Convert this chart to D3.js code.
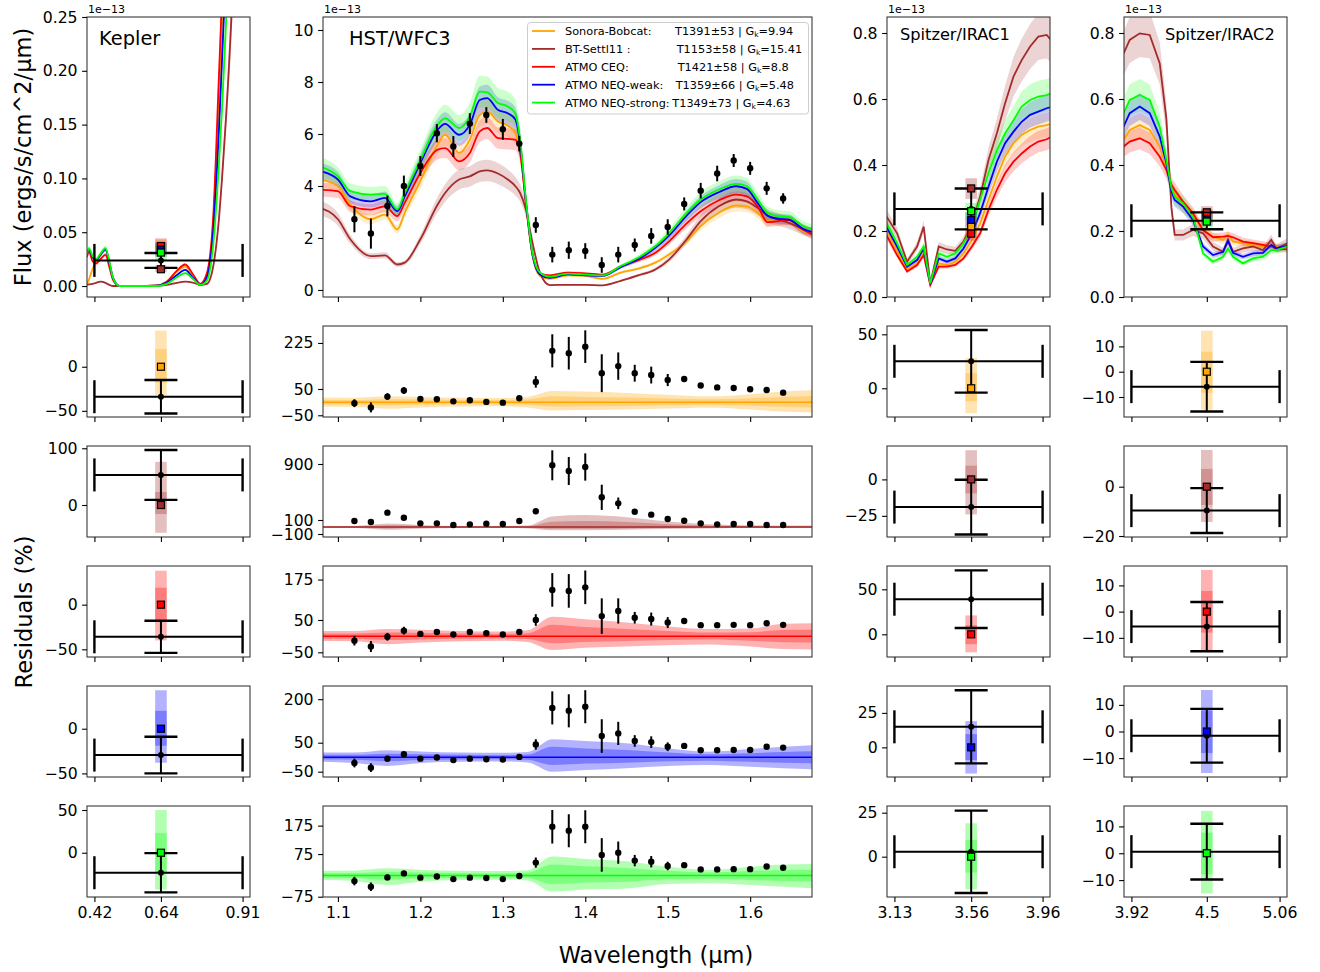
<!DOCTYPE html>
<html>
<head>
<meta charset="utf-8">
<script src="https://cdn.jsdelivr.net/npm/d3@7"></script>
<style>
  body { margin: 0; background: #fff; }
  svg text { font-family: "DejaVu Sans", sans-serif; fill: #000; }
</style>
</head>
<body>
<svg id="fig" width="1320" height="972"></svg>
<script>
// ---- models ----
var modelNames = ["Sonora-Bobcat:", "BT-Settl11 :", "ATMO CEQ:", "ATMO NEQ-weak:", "ATMO NEQ-strong:"];
var modelTemps = ["T1391±53", "T1153±58", "T1421±58", "T1359±66", "T1349±73"];
var modelGk = ["9.94", "15.41", "8.8", "5.48", "4.63"];
var modelColors = ["orange", "brown", "red", "blue", "lime"];
var bandFrac = [0.07, 0.09, 0.07, 0.07, 0.08];   // relative width of the shaded model spread

// ---- Kepler spectra (1e-13) ----
var keplerWave = [0.3955, 0.402, 0.414, 0.4256, 0.44, 0.4567, 0.47, 0.481, 0.503, 0.56, 0.6257, 0.659, 0.692, 0.72, 0.748, 0.77, 0.792, 0.814, 0.831, 0.842, 0.856, 0.873, 0.9345];
var keplerSonora = [0.002, 0.006, 0.016, 0.022, 0.029, 0.034, 0.021, 0.008, 0, 0, 0.0004, 0.004, 0.013, 0.018, 0.009, 0.001, 0.010, 0.062, 0.165, 0.240, 0.350, 0.550, 1.400];
var keplerSettl = [0.001, 0.0015, 0.002, 0.003, 0.004, 0.003, 0.001, 0, 0, 0, 0, 0.001, 0.003, 0.004, 0.003, 0.001, 0.002, 0.020, 0.060, 0.100, 0.160, 0.250, 0.900];
var keplerCeq = [0.027, 0.032, 0.023, 0.021, 0.025, 0.029, 0.017, 0.006, 0, 0, 0.0005, 0.004, 0.014, 0.020, 0.010, 0.002, 0.012, 0.070, 0.190, 0.270, 0.400, 0.600, 1.500];
var keplerWeak = [0.030, 0.034, 0.027, 0.024, 0.029, 0.034, 0.021, 0.008, 0, 0, 0.0003, 0.003, 0.010, 0.015, 0.007, 0.001, 0.008, 0.055, 0.140, 0.210, 0.310, 0.500, 1.300];
var keplerStrong = [0.030, 0.035, 0.028, 0.025, 0.030, 0.035, 0.022, 0.008, 0, 0, 0, 0.002, 0.008, 0.012, 0.006, 0.001, 0.005, 0.042, 0.110, 0.165, 0.250, 0.400, 1.200];

// ---- HST/WFC3 spectra ----
var hstWave = [1.078, 1.10, 1.115, 1.14, 1.157, 1.172, 1.181, 1.20, 1.221, 1.23, 1.247, 1.26, 1.272, 1.281, 1.294, 1.306, 1.315, 1.321, 1.328, 1.336, 1.345, 1.357, 1.379, 1.40, 1.421, 1.443, 1.464, 1.485, 1.502, 1.523, 1.54, 1.562, 1.583, 1.596, 1.609, 1.621, 1.634, 1.647, 1.664, 1.68];
var hstSonora = [4.25, 4.00, 3.29, 2.72, 2.90, 2.33, 2.97, 4.19, 5.60, 5.97, 5.27, 5.78, 6.74, 6.87, 6.48, 6.32, 6.04, 5.40, 3.29, 1.30, 0.54, 0.43, 0.56, 0.54, 0.43, 0.67, 0.82, 1.05, 1.37, 1.88, 2.46, 2.97, 3.25, 3.22, 2.97, 2.65, 2.71, 2.65, 2.26, 2.14];
var hstSettl = [3.16, 2.72, 1.95, 1.30, 1.33, 0.98, 1.05, 1.95, 3.29, 3.73, 4.25, 4.37, 4.56, 4.60, 4.48, 4.25, 4.00, 3.73, 3.09, 1.82, 0.67, 0.19, 0.20, 0.20, 0.18, 0.35, 0.56, 0.79, 1.18, 1.95, 2.65, 3.22, 3.48, 3.41, 3.16, 2.86, 2.71, 2.58, 2.33, 2.05];
var hstCeq = [3.86, 3.80, 3.22, 3.09, 3.22, 2.84, 3.35, 4.50, 5.40, 5.46, 4.95, 5.27, 6.10, 6.23, 5.84, 5.81, 5.78, 5.27, 3.35, 1.37, 0.64, 0.56, 0.67, 0.64, 0.59, 0.90, 1.14, 1.43, 1.88, 2.56, 3.03, 3.45, 3.67, 3.60, 3.22, 2.61, 2.65, 2.69, 2.33, 2.07];
var hstWeak = [4.58, 4.25, 3.60, 3.41, 3.54, 3.03, 3.60, 4.88, 6.16, 6.39, 5.97, 6.36, 7.31, 7.38, 6.93, 6.80, 6.57, 5.65, 3.41, 1.37, 0.60, 0.47, 0.60, 0.56, 0.54, 0.88, 1.18, 1.62, 2.10, 2.86, 3.38, 3.76, 3.99, 3.89, 3.35, 2.86, 2.74, 2.71, 2.35, 2.20];
var hstStrong = [4.76, 4.37, 3.80, 3.67, 3.70, 3.10, 3.73, 5.00, 6.36, 6.60, 6.23, 6.67, 7.63, 7.60, 7.19, 7.06, 6.80, 5.78, 3.48, 1.43, 0.67, 0.51, 0.63, 0.59, 0.56, 0.92, 1.24, 1.69, 2.20, 2.97, 3.48, 3.86, 4.08, 3.99, 3.48, 2.97, 2.84, 2.81, 2.46, 2.33];

var hstDataWave = [1.12, 1.14, 1.16, 1.18, 1.20, 1.22, 1.24, 1.26, 1.28, 1.30, 1.32, 1.34, 1.36, 1.38, 1.40, 1.42, 1.44, 1.46, 1.48, 1.50, 1.52, 1.54, 1.56, 1.58, 1.60, 1.62, 1.64];
var hstDataFlux = [2.72, 2.17, 3.23, 4.00, 4.77, 6.03, 5.52, 6.40, 6.73, 6.18, 5.63, 2.50, 1.36, 1.53, 1.50, 0.96, 1.36, 1.73, 2.08, 2.42, 3.31, 3.82, 4.48, 4.98, 4.68, 3.91, 3.52];
var hstDataErr = [0.50, 0.58, 0.40, 0.40, 0.38, 0.35, 0.40, 0.40, 0.30, 0.40, 0.30, 0.30, 0.30, 0.33, 0.30, 0.30, 0.30, 0.25, 0.30, 0.30, 0.25, 0.30, 0.30, 0.25, 0.25, 0.25, 0.20];

// ---- Spitzer spectra ----
var irac1Wave = [3.085, 3.145, 3.201, 3.257, 3.294, 3.331, 3.378, 3.424, 3.471, 3.517, 3.564, 3.61, 3.657, 3.704, 3.75, 3.797, 3.843, 3.89, 3.936, 3.983, 4.005];
var irac1Sonora = [0.203, 0.140, 0.084, 0.102, 0.140, 0.039, 0.102, 0.097, 0.107, 0.132, 0.173, 0.223, 0.294, 0.365, 0.426, 0.466, 0.491, 0.506, 0.516, 0.521, 0.524];
var irac1Settl = [0.245, 0.193, 0.107, 0.153, 0.213, 0.041, 0.153, 0.144, 0.140, 0.168, 0.223, 0.304, 0.415, 0.496, 0.587, 0.668, 0.718, 0.759, 0.789, 0.794, 0.780];
var irac1Ceq = [0.188, 0.127, 0.077, 0.097, 0.127, 0.036, 0.092, 0.092, 0.097, 0.117, 0.153, 0.193, 0.264, 0.325, 0.375, 0.410, 0.435, 0.456, 0.471, 0.478, 0.484];
var irac1Weak = [0.213, 0.153, 0.092, 0.112, 0.147, 0.039, 0.117, 0.107, 0.117, 0.147, 0.193, 0.254, 0.334, 0.410, 0.466, 0.501, 0.531, 0.552, 0.562, 0.572, 0.575];
var irac1Strong = [0.225, 0.163, 0.097, 0.122, 0.153, 0.041, 0.132, 0.122, 0.132, 0.163, 0.213, 0.294, 0.375, 0.445, 0.496, 0.536, 0.577, 0.597, 0.607, 0.612, 0.617];

var irac2Wave = [3.86, 3.907, 3.984, 4.061, 4.138, 4.189, 4.228, 4.253, 4.317, 4.394, 4.471, 4.548, 4.625, 4.663, 4.702, 4.778, 4.855, 4.932, 4.996, 5.035, 5.12];
var irac2Sonora = [0.476, 0.506, 0.521, 0.506, 0.456, 0.395, 0.330, 0.314, 0.274, 0.248, 0.203, 0.183, 0.173, 0.188, 0.168, 0.163, 0.158, 0.153, 0.158, 0.151, 0.147];
var irac2Settl = [0.738, 0.779, 0.799, 0.794, 0.708, 0.540, 0.270, 0.188, 0.188, 0.203, 0.193, 0.153, 0.137, 0.173, 0.137, 0.147, 0.153, 0.142, 0.173, 0.147, 0.163];
var irac2Ceq = [0.456, 0.471, 0.481, 0.466, 0.425, 0.385, 0.340, 0.324, 0.289, 0.254, 0.203, 0.181, 0.183, 0.185, 0.181, 0.168, 0.163, 0.158, 0.153, 0.147, 0.144];
var irac2Weak = [0.516, 0.557, 0.577, 0.557, 0.486, 0.405, 0.320, 0.294, 0.274, 0.233, 0.153, 0.127, 0.137, 0.170, 0.134, 0.122, 0.132, 0.134, 0.158, 0.147, 0.155];
var irac2Strong = [0.557, 0.597, 0.612, 0.597, 0.516, 0.415, 0.330, 0.304, 0.284, 0.243, 0.132, 0.107, 0.122, 0.147, 0.122, 0.102, 0.117, 0.122, 0.142, 0.142, 0.153];

// ---- photometry: Kepler, IRAC1, IRAC2 ----
var photWave = [0.64, 3.56, 4.5];
var photWaveLo = [0.42, 3.13, 3.92];
var photWaveHi = [0.91, 3.96, 5.06];
var photFlux = [0.0238, 0.267, 0.231];
var photErr = [0.0069, 0.062, 0.0255];
var photSonora = [0.036, 0.2136, 0.2457];
var photSettl = [0.0156, 0.329, 0.2567];
var photCeq = [0.0372, 0.192, 0.2457];
var photWeak = [0.0338, 0.234, 0.2345];
var photStrong = [0.0311, 0.26, 0.2287];

// residual (%) of the photometric point: [value, error]
var photResSonora = [[-34, 19], [25, 29], [-5.9, 9.8]];
var photResSettl = [[53, 44], [-19, 18.8], [-9.7, 9.1]];
var photResCeq = [[-36, 18], [39, 32], [-5.7, 9.4]];
var photResWeak = [[-29.5, 20.5], [14.9, 26.5], [-1.6, 10.1]];
var photResStrong = [[-23.4, 23], [2.8, 23.4], [0.6, 10.4]];
// model spread (%): [outer hi, inner hi, inner lo, outer lo]
var photBandSonora = [[41, 20, -18, -32], [28, 14, -12, -23], [16.2, 7.9, -8.3, -15]];
var photBandSettl = [[76, 23, -16, -49], [20, 9.4, -9.6, -24], [14.9, 7.2, -7.4, -14.3]];
var photBandCeq = [[38, 19, -19, -40], [21, 10, -11, -20], [15.9, 7.9, -8, -15.3]];
var photBandWeak = [[43, 20, -19, -38], [19, 9.6, -9.2, -19], [15.6, 7.9, -8.1, -15.6]];
var photBandStrong = [[50, 23, -23, -43], [19, 9.5, -9, -18.5], [15.8, 7.7, -7.8, -15]];

// ---- HST residuals (%) ----
var hstResSonora = [-4, -20, 21, 44, 12, 11, 3, 7, 1, -2, 15, 77, 195, 186, 211, 110, 137, 110, 103, 84, 88, 63, 56, 54, 49, 46, 36];
var hstResErrSonora = [15, 19, 13, 13, 6, 5, 5, 5, 4, 5, 6, 22, 63, 62, 62, 72, 52, 32, 32, 23, 10, 6, 5, 5, 5, 5, 5];
var hstResSettl = [86, 71, 205, 133, 52, 52, 29, 38, 48, 43, 86, 224, 881, 800, 857, 424, 338, 219, 176, 114, 90, 52, 38, 43, 43, 29, 29];
var hstResErrSettl = [25, 30, 25, 20, 10, 10, 10, 10, 10, 10, 10, 40, 214, 200, 195, 180, 83, 40, 30, 20, 15, 15, 15, 15, 15, 15, 15];
var hstResCeq = [-14, -32, -2, 17, 7, 13, 5, 13, 9, 5, 13, 50, 143, 140, 151, 62, 78, 57, 53, 42, 47, 34, 34, 35, 34, 40, 35];
var hstResErrCeq = [15, 17, 12, 12, 5, 5, 5, 5, 5, 5, 5, 18, 52, 52, 52, 55, 39, 18, 20, 17, 8, 5, 5, 5, 5, 5, 5];
var hstResWeak = [-20, -36, -5, 10, -5, -1, -10, -5, -7, -8, 1, 44, 170, 160, 174, 73, 82, 56, 52, 36, 39, 24, 24, 25, 25, 36, 33];
var hstResErrWeak = [15, 15, 10, 8, 5, 5, 5, 5, 5, 5, 5, 18, 57, 57, 57, 58, 40, 20, 20, 15, 8, 5, 5, 5, 5, 5, 5];
var hstResStrong = [-20, -40, -7, 7, -8, -4, -13, -8, -9, -13, -2, 45, 171, 157, 171, 72, 80, 52, 48, 33, 36, 21, 21, 22, 22, 31, 27];
var hstResErrStrong = [15, 15, 10, 8, 5, 5, 5, 5, 5, 5, 5, 18, 59, 58, 58, 59, 39, 20, 20, 15, 8, 5, 5, 5, 5, 5, 5];

var hstBandWave = [1.078, 1.12, 1.16, 1.20, 1.25, 1.30, 1.33, 1.36, 1.40, 1.45, 1.50, 1.55, 1.60, 1.64, 1.68];
var hstBandSonora = [
  [18, 17, 22, 20, 17, 16, 20, 42, 40, 35, 28, 22, 30, 40, 46],
  [9, 8, 11, 10, 8, 8, 10, 22, 20, 18, 14, 11, 15, 20, 24],
  [-9, -9, -12, -10, -8, -8, -10, -17, -16, -15, -12, -10, -14, -18, -22],
  [-18, -18, -25, -20, -17, -16, -20, -32, -30, -28, -24, -20, -28, -36, -40]];
var hstBandSettl = [
  [15, 15, 50, 30, 15, 15, 20, 150, 170, 140, 80, 40, 25, 20, 20],
  [7, 7, 25, 15, 7, 7, 10, 75, 85, 70, 40, 20, 12, 10, 10],
  [-7, -7, -20, -12, -7, -7, -10, -25, -25, -20, -15, -10, -8, -8, -8],
  [-15, -15, -40, -25, -15, -15, -20, -45, -45, -40, -30, -20, -15, -15, -15]];
var hstBandCeq = [
  [16, 16, 22, 20, 16, 14, 18, 60, 52, 42, 30, 22, 24, 38, 40],
  [8, 8, 11, 10, 8, 7, 9, 35, 28, 22, 16, 11, 12, 19, 20],
  [-8, -8, -12, -10, -8, -7, -9, -22, -18, -15, -12, -10, -14, -19, -20],
  [-15, -16, -25, -20, -16, -14, -18, -43, -36, -32, -28, -26, -32, -40, -41]];
var hstBandWeak = [
  [16, 16, 24, 20, 16, 15, 18, 62, 56, 48, 31, 19, 28, 36, 42],
  [8, 8, 12, 10, 8, 7, 9, 36, 30, 25, 16, 10, 14, 18, 21],
  [-8, -9, -14, -10, -8, -7, -9, -27, -22, -19, -14, -12, -16, -19, -21],
  [-15, -20, -30, -20, -16, -15, -18, -50, -44, -38, -30, -27, -33, -38, -42]];
var hstBandStrong = [
  [16, 17, 25, 20, 16, 15, 18, 66, 58, 50, 30, 19, 30, 38, 40],
  [8, 8, 12, 10, 8, 7, 9, 38, 32, 26, 16, 10, 15, 19, 20],
  [-8, -9, -15, -10, -8, -7, -9, -30, -25, -22, -14, -12, -16, -20, -22],
  [-16, -20, -34, -22, -16, -15, -18, -57, -50, -46, -30, -28, -34, -40, -46]];

// ---- axes ----
var xLims = [[0.3955, 0.9345], [1.0819, 1.675], [3.0885, 4.0015], [3.863, 5.117]];
var xTicks = [[0.42, 0.64, 0.91], [1.1, 1.2, 1.3, 1.4, 1.5, 1.6], [3.13, 3.56, 3.96], [3.92, 4.5, 5.06]];
var topYLims = [[-0.0102, 0.25], [-0.27, 10.5], [0, 0.8485], [0, 0.8485]];
var topYTicks = [[0, 0.05, 0.1, 0.15, 0.2, 0.25], [0, 2, 4, 6, 8, 10], [0, 0.2, 0.4, 0.6, 0.8], [0, 0.2, 0.4, 0.6, 0.8]];
var topYFormats = [".2f", "d", ".1f", ".1f"];
var keplerResYLims = [[-57, 46.2], [-56.4, 104], [-58.6, 43.3], [-54, 47.8], [-51.8, 54.7]];
var keplerResTicks = [[0, -50], [100, 0], [0, -50], [0, -50], [50, 0]];
var hstResYLims = [[-56.5, 289.5], [-143, 1157], [-64.5, 217], [-68.3, 245.5], [-76, 244]];
var hstResTicks = [[225, 50, -50], [900, 100, -100], [175, 50, -50], [200, 50, -50], [175, 75, -75]];
var irac1ResYLims = [[-26.6, 57.7], [-39.5, 22.9], [-25.2, 75.9], [-21.5, 44.5], [-22.9, 28.8]];
var irac1ResTicks = [[50, 0], [0, -25], [50, 0], [25, 0], [25, 0]];
var irac2ResYLims = [[-17.9, 18.06], [-20.4, 16.5], [-17.3, 17.4], [-17.1, 17.1], [-16.3, 17.6]];
var irac2ResTicks = [[10, 0, -10], [0, -20], [10, 0, -10], [10, 0, -10], [10, 0, -10]];

var keplerModels = [keplerSonora, keplerSettl, keplerCeq, keplerWeak, keplerStrong];
var hstModels = [hstSonora, hstSettl, hstCeq, hstWeak, hstStrong];
var irac1Models = [irac1Sonora, irac1Settl, irac1Ceq, irac1Weak, irac1Strong];
var irac2Models = [irac2Sonora, irac2Settl, irac2Ceq, irac2Weak, irac2Strong];
var photModels = [photSonora, photSettl, photCeq, photWeak, photStrong];
var photRes = [photResSonora, photResSettl, photResCeq, photResWeak, photResStrong];
var photBands = [photBandSonora, photBandSettl, photBandCeq, photBandWeak, photBandStrong];
var hstRes = [hstResSonora, hstResSettl, hstResCeq, hstResWeak, hstResStrong];
var hstResErr = [hstResErrSonora, hstResErrSettl, hstResErrCeq, hstResErrWeak, hstResErrStrong];
var hstBands = [hstBandSonora, hstBandSettl, hstBandCeq, hstBandWeak, hstBandStrong];

// ---- layout ----
var svg = d3.select("#fig");
var cols = [[87, 250], [323, 812], [887, 1050], [1124, 1287]];
var rows = [[17, 297], [326, 417], [446, 537], [566, 657], [686, 777], [806, 897]];
var tickFont = "15.7px";
var capHalf = 16.5;
var clipCount = 0;

function makePanel(c, r, ydom) {
    var x = d3.scaleLinear().domain(xLims[c]).range(cols[c]);
    var y = d3.scaleLinear().domain(ydom).range([rows[r][1], rows[r][0]]);
    var g = svg.append("g");
    var id = "clip" + (clipCount++);
    svg.append("clipPath").attr("id", id).append("rect")
        .attr("x", cols[c][0]).attr("y", rows[r][0])
        .attr("width", cols[c][1] - cols[c][0]).attr("height", rows[r][1] - rows[r][0]);
    var inner = g.append("g").attr("clip-path", "url(#" + id + ")");
    return {g: g, inner: inner, x: x, y: y, c: c, r: r};
}

function styleAxis(sel) {
    sel.attr("font-family", null).attr("font-size", null);
    sel.select(".domain").remove();
    sel.selectAll(".tick line").attr("stroke", "#000").attr("stroke-width", 1.1);
    sel.selectAll(".tick text").style("font-size", tickFont);
}

function finishPanel(p, yticks, yfmt) {
    var c = p.c, r = p.r;
    p.g.append("rect")
        .attr("x", cols[c][0]).attr("y", rows[r][0])
        .attr("width", cols[c][1] - cols[c][0]).attr("height", rows[r][1] - rows[r][0])
        .attr("fill", "none").attr("stroke", "#3a3a3a").attr("stroke-width", 1.1);
    var xa = d3.axisBottom(p.x).tickValues(xTicks[c]).tickSize(4.9).tickPadding(5)
        .tickFormat(r == 5 ? function(d) { return String(d); } : function() { return ""; });
    p.g.append("g").attr("transform", "translate(0," + rows[r][1] + ")").call(xa).call(styleAxis);
    var ya = d3.axisLeft(p.y).tickValues(yticks).tickSize(4.9).tickPadding(4.5).tickFormat(d3.format(yfmt));
    p.g.append("g").attr("transform", "translate(" + cols[c][0] + ",0)").call(ya).call(styleAxis);
}

function drawSpectra(p, wave, models, curve) {
    models.forEach(function(vals, i) {
        var pts = wave.map(function(w, j) { return [w, vals[j]]; });
        p.inner.append("path").datum(pts)
            .attr("d", d3.area().curve(curve)
                .x(function(d) { return p.x(d[0]); })
                .y0(function(d) { return p.y(d[1] * (1 - bandFrac[i])); })
                .y1(function(d) { return p.y(d[1] * (1 + bandFrac[i])); }))
            .attr("fill", modelColors[i]).attr("fill-opacity", 0.2);
    });
    models.forEach(function(vals, i) {
        var pts = wave.map(function(w, j) { return [w, vals[j]]; });
        p.inner.append("path").datum(pts)
            .attr("d", d3.line().curve(curve)
                .x(function(d) { return p.x(d[0]); })
                .y(function(d) { return p.y(d[1]); }))
            .attr("fill", "none").attr("stroke", modelColors[i]).attr("stroke-width", 1.8);
    });
}

// black point with x and y error bars and big caps
function errorCross(p, k, val, err) {
    var g = p.inner.append("g").attr("stroke", "#000").attr("stroke-width", 2);
    var cx = p.x(photWave[k]), xl = p.x(photWaveLo[k]), xh = p.x(photWaveHi[k]);
    var yv = p.y(val), yl = p.y(val - err), yh = p.y(val + err);
    g.append("line").attr("x1", xl).attr("x2", xh).attr("y1", yv).attr("y2", yv);
    g.append("line").attr("x1", xl).attr("x2", xl).attr("y1", yv - capHalf).attr("y2", yv + capHalf).attr("stroke-width", 2.4);
    g.append("line").attr("x1", xh).attr("x2", xh).attr("y1", yv - capHalf).attr("y2", yv + capHalf).attr("stroke-width", 2.4);
    g.append("line").attr("x1", cx).attr("x2", cx).attr("y1", yl).attr("y2", yh);
    g.append("line").attr("x1", cx - capHalf).attr("x2", cx + capHalf).attr("y1", yl).attr("y2", yl).attr("stroke-width", 2.4);
    g.append("line").attr("x1", cx - capHalf).attr("x2", cx + capHalf).attr("y1", yh).attr("y2", yh).attr("stroke-width", 2.4);
    p.inner.append("circle").attr("cx", cx).attr("cy", yv).attr("r", 3).attr("fill", "#000");
}

function square(p, xv, yv, color) {
    p.inner.append("rect").attr("x", p.x(xv) - 3.5).attr("y", p.y(yv) - 3.5)
        .attr("width", 7).attr("height", 7)
        .attr("fill", color).attr("stroke", "#000").attr("stroke-width", 1.2);
}

function bandRect(p, xv, lo, hi, color, op) {
    p.inner.append("rect").attr("x", p.x(xv) - 5.8).attr("width", 11.6)
        .attr("y", p.y(hi)).attr("height", p.y(lo) - p.y(hi))
        .attr("fill", color).attr("fill-opacity", op);
}

function drawPhotTop(p, k) {
    photModels.forEach(function(m, i) {
        var b = photBands[i][k];
        bandRect(p, photWave[k], m[k] * (1 + b[2] / 100), m[k] * (1 + b[1] / 100), modelColors[i], 0.3);
    });
    errorCross(p, k, photFlux[k], photErr[k]);
    photModels.forEach(function(m, i) { square(p, photWave[k], m[k], modelColors[i]); });
}

function drawPhotRes(p, k, i) {
    var b = photBands[i][k];
    bandRect(p, photWave[k], b[3], b[0], modelColors[i], 0.3);
    bandRect(p, photWave[k], b[2], b[1], modelColors[i], 0.3);
    errorCross(p, k, photRes[i][k][0], photRes[i][k][1]);
    square(p, photWave[k], 0, modelColors[i]);
}

function drawHstPoints(p, vals, errs) {
    var g = p.inner.append("g");
    g.selectAll("line").data(hstDataWave).enter().append("line")
        .attr("x1", function(d) { return p.x(d); }).attr("x2", function(d) { return p.x(d); })
        .attr("y1", function(d, j) { return p.y(vals[j] - errs[j]); })
        .attr("y2", function(d, j) { return p.y(vals[j] + errs[j]); })
        .attr("stroke", "#000").attr("stroke-width", 2);
    g.selectAll("circle").data(hstDataWave).enter().append("circle")
        .attr("cx", function(d) { return p.x(d); })
        .attr("cy", function(d, j) { return p.y(vals[j]); })
        .attr("r", 3.2).attr("fill", "#000");
}

function drawHstRes(p, i) {
    var band = hstBands[i];
    var idx = hstBandWave.map(function(w, j) { return j; });
    [[3, 0], [2, 1]].forEach(function(pair) {
        p.inner.append("path").datum(idx)
            .attr("d", d3.area().curve(d3.curveMonotoneX)
                .x(function(j) { return p.x(hstBandWave[j]); })
                .y0(function(j) { return p.y(band[pair[0]][j]); })
                .y1(function(j) { return p.y(band[pair[1]][j]); }))
            .attr("fill", modelColors[i]).attr("fill-opacity", 0.3);
    });
    p.inner.append("line").attr("x1", cols[1][0]).attr("x2", cols[1][1])
        .attr("y1", p.y(0)).attr("y2", p.y(0))
        .attr("stroke", modelColors[i]).attr("stroke-width", 1.5);
    drawHstPoints(p, hstRes[i], hstResErr[i]);
}

// ---- top row ----
var pk = makePanel(0, 0, topYLims[0]);
drawSpectra(pk, keplerWave, keplerModels, d3.curveMonotoneX);
drawPhotTop(pk, 0);
finishPanel(pk, topYTicks[0], topYFormats[0]);

var ph = makePanel(1, 0, topYLims[1]);
drawSpectra(ph, hstWave, hstModels, d3.curveMonotoneX);
drawHstPoints(ph, hstDataFlux, hstDataErr);
finishPanel(ph, topYTicks[1], topYFormats[1]);

var pi1 = makePanel(2, 0, topYLims[2]);
drawSpectra(pi1, irac1Wave, irac1Models, d3.curveLinear);
drawPhotTop(pi1, 1);
finishPanel(pi1, topYTicks[2], topYFormats[2]);

var pi2 = makePanel(3, 0, topYLims[3]);
drawSpectra(pi2, irac2Wave, irac2Models, d3.curveLinear);
drawPhotTop(pi2, 2);
finishPanel(pi2, topYTicks[3], topYFormats[3]);

// ---- residual rows ----
modelNames.forEach(function(name, i) {
    var r = i + 1;
    var p0 = makePanel(0, r, keplerResYLims[i]);
    drawPhotRes(p0, 0, i);
    finishPanel(p0, keplerResTicks[i], "d");

    var p1 = makePanel(1, r, hstResYLims[i]);
    drawHstRes(p1, i);
    finishPanel(p1, hstResTicks[i], "d");

    var p2 = makePanel(2, r, irac1ResYLims[i]);
    drawPhotRes(p2, 1, i);
    finishPanel(p2, irac1ResTicks[i], "d");

    var p3 = makePanel(3, r, irac2ResYLims[i]);
    drawPhotRes(p3, 2, i);
    finishPanel(p3, irac2ResTicks[i], "d");
});

// ---- panel titles and offset labels ----
var titles = [["Kepler", 99, 45, 19.4], ["HST/WFC3", 349, 45, 19.4], ["Spitzer/IRAC1", 900, 39.5, 16.2], ["Spitzer/IRAC2", 1165, 39.5, 16.2]];
titles.forEach(function(t, c) {
    svg.append("text").attr("x", t[1]).attr("y", t[2]).style("font-size", t[3] + "px").text(t[0]);
    svg.append("text").attr("x", cols[c][0] + 1).attr("y", 13).style("font-size", "11px").text("1e\u221213");
});

// ---- legend ----
var legendStatX = [675, 676.7, 677.7, 675.7, 672.3];
var lg = svg.append("g");
lg.append("rect").attr("x", 527.5).attr("y", 22.5).attr("width", 281).attr("height", 91.5).attr("rx", 3)
    .attr("fill", "#fff").attr("fill-opacity", 0.8).attr("stroke", "#cccccc").attr("stroke-width", 1);
modelNames.forEach(function(name, i) {
    var yy = 31 + i * 17.9;
    lg.append("line").attr("x1", 532).attr("x2", 555).attr("y1", yy).attr("y2", yy)
        .attr("stroke", modelColors[i]).attr("stroke-width", 1.8);
    lg.append("text").attr("x", 565).attr("y", yy + 4).style("font-size", "11.3px").text(name);
    var t = lg.append("text").attr("x", legendStatX[i]).attr("y", yy + 4).style("font-size", "11.3px");
    t.append("tspan").text(modelTemps[i] + " | G");
    t.append("tspan").attr("dy", 2).style("font-size", "7.5px").text("k");
    t.append("tspan").attr("dy", -2).text("=" + modelGk[i]);
});

// ---- axis labels ----
svg.append("text").attr("transform", "translate(31,157) rotate(-90)")
    .attr("text-anchor", "middle").style("font-size", "22.5px").text("Flux (ergs/s/cm^2/\u03bcm)");
svg.append("text").attr("transform", "translate(32,612) rotate(-90)")
    .attr("text-anchor", "middle").style("font-size", "22.5px").text("Residuals (%)");
svg.append("text").attr("x", 656).attr("y", 963)
    .attr("text-anchor", "middle").style("font-size", "22.5px").text("Wavelength (\u03bcm)");
</script>
</body>
</html>
